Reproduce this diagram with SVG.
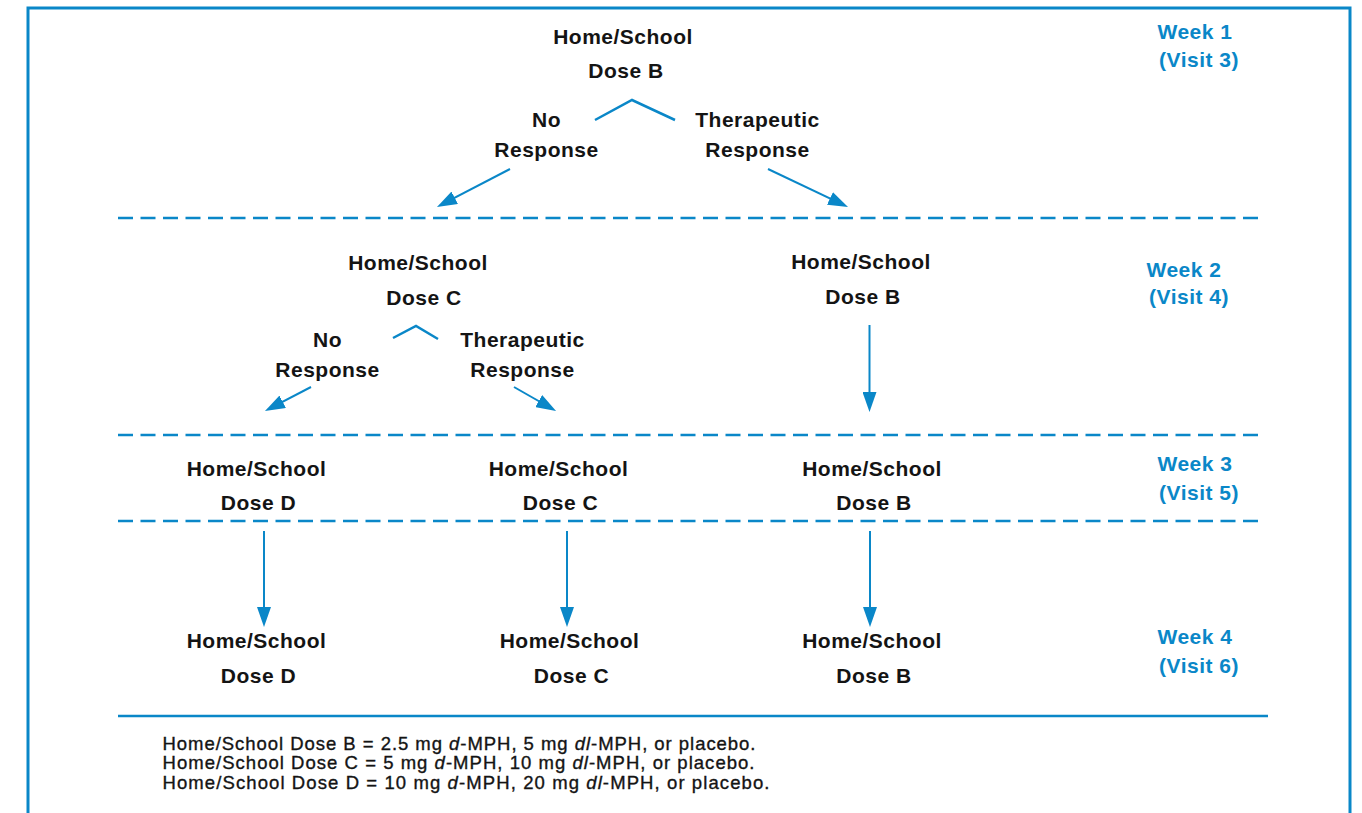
<svg xmlns="http://www.w3.org/2000/svg" width="1362" height="813" viewBox="0 0 1362 813">
<defs>
<style>
.lbl{font-family:"Liberation Sans",Arial,sans-serif;font-weight:bold;font-size:21px;letter-spacing:0.5px;fill:#141414;text-anchor:middle}
.wk{font-family:"Liberation Sans",Arial,sans-serif;font-weight:bold;font-size:21px;letter-spacing:0.5px;fill:#0a87c8;text-anchor:middle}
.leg{font-family:"Liberation Sans",Arial,sans-serif;font-size:18.5px;fill:#141414;stroke:#141414;stroke-width:0.35}
.dash{stroke:#0a87c8;stroke-width:2.4;stroke-dasharray:15 7.5;fill:none}
.solid{stroke:#0a87c8;stroke-width:2.5;fill:none}
.caret{stroke:#0a87c8;stroke-width:2.5;fill:none}
.arr{stroke:#0a87c8;stroke-width:2;fill:none;marker-end:url(#ah)}
</style>
<marker id="ah" viewBox="0 0 20 14" refX="15" refY="7" markerWidth="20" markerHeight="14" markerUnits="userSpaceOnUse" orient="auto">
<path d="M0,0 L20,7 L0,14 z" fill="#0a87c8"/>
</marker>
</defs>
<rect width="1362" height="813" fill="#ffffff"/>
<path d="M28,813 V8 H1350 V813" fill="none" stroke="#0a87c8" stroke-width="3"/>
<g id="separators">
<line class="dash" x1="118" y1="218" x2="1260" y2="218"/>
<line class="dash" x1="118" y1="435" x2="1260" y2="435"/>
<line class="dash" x1="118" y1="521" x2="1260" y2="521"/>
<line class="solid" x1="118" y1="716" x2="1268" y2="716"/>
</g>
<g id="week-labels">
<text class="wk" x="1195" y="39">Week 1</text>
<text class="wk" x="1199" y="67">(Visit 3)</text>
<text class="wk" x="1184" y="277">Week 2</text>
<text class="wk" x="1189" y="304">(Visit 4)</text>
<text class="wk" x="1195" y="471">Week 3</text>
<text class="wk" x="1199" y="500">(Visit 5)</text>
<text class="wk" x="1195" y="644">Week 4</text>
<text class="wk" x="1199" y="673">(Visit 6)</text>
</g>
<g id="w1-doseB">
<text class="lbl" x="623" y="44">Home/School</text>
<text class="lbl" x="626" y="78">Dose B</text>
</g>
<g id="w1-noresp">
<text class="lbl" x="546.5" y="127">No</text>
<text class="lbl" x="546.5" y="157">Response</text>
</g>
<g id="w1-therresp">
<text class="lbl" x="757.5" y="127">Therapeutic</text>
<text class="lbl" x="757.5" y="157">Response</text>
</g>
<g id="w2-doseC">
<text class="lbl" x="418" y="270">Home/School</text>
<text class="lbl" x="424" y="305">Dose C</text>
</g>
<g id="w2-doseB">
<text class="lbl" x="861" y="269">Home/School</text>
<text class="lbl" x="863" y="304">Dose B</text>
</g>
<g id="w2-noresp">
<text class="lbl" x="327.5" y="347">No</text>
<text class="lbl" x="327.5" y="377">Response</text>
</g>
<g id="w2-therresp">
<text class="lbl" x="522.5" y="347">Therapeutic</text>
<text class="lbl" x="522.5" y="377">Response</text>
</g>
<g id="w3-doseD">
<text class="lbl" x="256.5" y="476">Home/School</text>
<text class="lbl" x="258.5" y="510">Dose D</text>
</g>
<g id="w3-doseC">
<text class="lbl" x="558.5" y="476">Home/School</text>
<text class="lbl" x="560.5" y="510">Dose C</text>
</g>
<g id="w3-doseB">
<text class="lbl" x="872" y="476">Home/School</text>
<text class="lbl" x="874" y="510">Dose B</text>
</g>
<g id="w4-doseD">
<text class="lbl" x="256.5" y="648">Home/School</text>
<text class="lbl" x="258.5" y="683">Dose D</text>
</g>
<g id="w4-doseC">
<text class="lbl" x="569.5" y="648">Home/School</text>
<text class="lbl" x="571.5" y="683">Dose C</text>
</g>
<g id="w4-doseB">
<text class="lbl" x="872" y="648">Home/School</text>
<text class="lbl" x="874" y="683">Dose B</text>
</g>
<g id="connectors">
<polyline class="caret" points="595,120 632,100 675,120"/>
<polyline class="caret" points="393,338 416,326 438,339"/>
<line class="arr" x1="510" y1="169" x2="441.4" y2="204.7"/>
<line class="arr" x1="768" y1="169" x2="843.5" y2="204.9"/>
<line class="arr" x1="311" y1="387" x2="269.4" y2="408.7"/>
<line class="arr" x1="514" y1="387" x2="551.7" y2="408.5"/>
<line class="arr" x1="869.5" y1="325" x2="869.5" y2="407"/>
<line class="arr" x1="264" y1="531" x2="264" y2="622"/>
<line class="arr" x1="567" y1="531" x2="567" y2="622"/>
<line class="arr" x1="870" y1="531" x2="870" y2="622"/>
</g>
<g id="legend">
<text class="leg" x="162.5" y="749.5" textLength="593" lengthAdjust="spacing">Home/School Dose B = 2.5 mg <tspan font-style="italic">d</tspan>-MPH, 5 mg <tspan font-style="italic">dl</tspan>-MPH, or placebo.</text>
<text class="leg" x="162.5" y="769" textLength="592" lengthAdjust="spacing">Home/School Dose C = 5 mg <tspan font-style="italic">d</tspan>-MPH, 10 mg <tspan font-style="italic">dl</tspan>-MPH, or placebo.</text>
<text class="leg" x="162.5" y="788.5" textLength="607" lengthAdjust="spacing">Home/School Dose D = 10 mg <tspan font-style="italic">d</tspan>-MPH, 20 mg <tspan font-style="italic">dl</tspan>-MPH, or placebo.</text>
</g>
</svg>
